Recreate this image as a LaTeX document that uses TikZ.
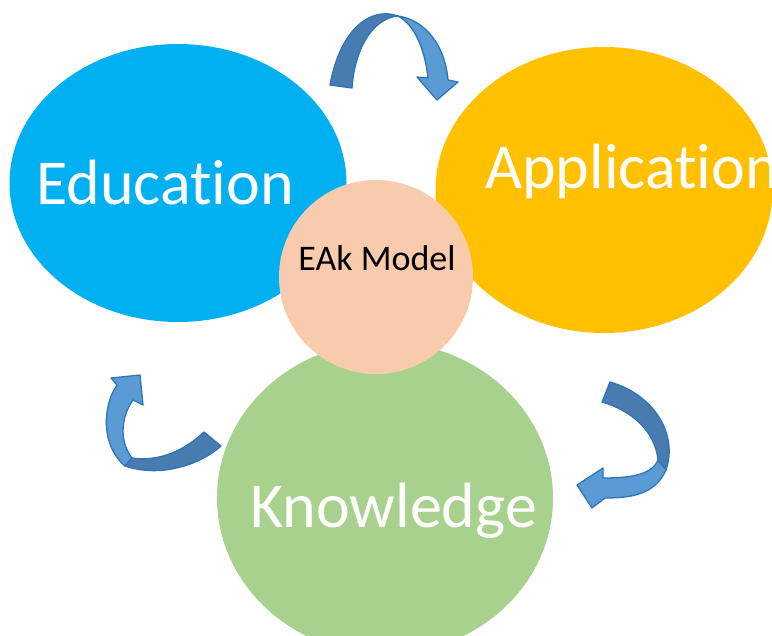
\documentclass[tikz,border=0pt]{standalone}
\usepackage{fontspec}
\setmainfont{Carlito}[Ligatures={NoCommon,NoContextual}, RawFeature={-liga;-clig;-calt}]
\usetikzlibrary{shapes.geometric}

\definecolor{eduBlue}{RGB}{0,176,240}
\definecolor{appGold}{RGB}{255,192,0}
\definecolor{knowGreen}{RGB}{169,209,142}
\definecolor{modelPeach}{RGB}{248,203,173}
\definecolor{arrLight}{RGB}{91,155,213}
\definecolor{arrDark}{RGB}{72,124,176}
\definecolor{arrLine}{RGB}{46,117,182}

\tikzset{
    blob/.style={ellipse, inner sep=0pt},
    word/.style={anchor=base west, inner sep=0pt, text=white, font=\fontsize{64}{70}\selectfont},
    lightpart/.style={fill=arrLight, draw=arrLine, line width=1.3pt, line join=round},
    darkpart/.style={fill=arrDark, draw=arrLine, line width=1.3pt, line join=round}
}

\begin{document}
\begin{tikzpicture}[x=1pt,y=-1pt]
    \useasboundingbox (0,0) rectangle (772,636);
    \clip (0,0) rectangle (772,636);
    % Draw the three big circles
    \node [blob, fill=eduBlue, minimum width=337pt, minimum height=278pt] (edu) at (178,183) {};
    \node [blob, fill=appGold, minimum width=337pt, minimum height=286pt] (app) at (604,190) {};
    \node [blob, fill=knowGreen, minimum width=336pt, minimum height=312pt] (know) at (385,498) {};
    \node [word] (eduText) at (36,205) {Educat\kern0pt ion};
    \node [word] (appText) at (485,189) {Applicat\kern0pt ion};
    \node [word] (knowText) at (250,527) {Knowledge};

    % Draw the model in the middle
    \node [circle, fill=modelPeach, minimum size=194pt, inner sep=0pt] (model) at (376,277) {};
    \node [anchor=base, inner sep=0pt, font=\fontsize{36}{40}\selectfont] (modelText) at (377,271) {EAk Model};

    % Draw the top arrow
    \draw [lightpart] (398,16) .. controls (425,20) and (445,45) .. (448,80) -- (458,82) -- (437,100) -- (417,77) -- (428,78) .. controls (425,50) and (415,25) .. (398,16) -- cycle;
    \draw [darkpart] (330,85) .. controls (340,30) and (370,6) .. (398,16) .. controls (375,18) and (355,45) .. (352,88) -- cycle;

    % Draw the left arrow
    \draw [lightpart] (117,385) .. controls (103,405) and (100,445) .. (125,466) -- (132,458) .. controls (118,440) and (122,415) .. (133,400) -- (143,405) -- (140,375) -- (111,378) -- cycle;
    \draw [darkpart] (125,466) .. controls (160,478) and (200,465) .. (221,446) -- (204,432) .. controls (185,450) and (160,462) .. (132,458) -- cycle;

    % Draw the right arrow
    \draw [darkpart] (610,382) .. controls (655,395) and (678,435) .. (666,470) -- (658,460) .. controls (655,430) and (630,410) .. (602,402) -- cycle;
    \draw [lightpart] (666,470) .. controls (655,495) and (630,498) .. (605,498) -- (592,508) -- (577,485) -- (603,468) -- (603,478) .. controls (630,478) and (652,475) .. (658,460) -- cycle;
\end{tikzpicture}
\end{document}
